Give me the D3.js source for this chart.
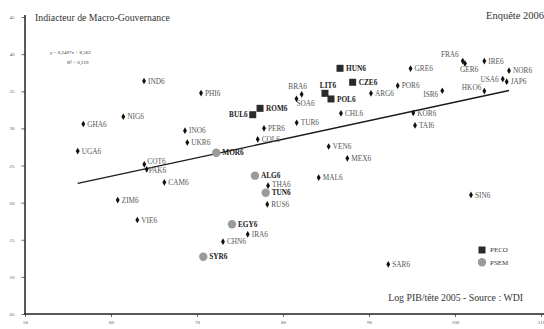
<!DOCTYPE html>
<html><head><meta charset="utf-8">
<script src="https://cdn.jsdelivr.net/npm/d3@7"></script>
<style>
html,body{margin:0;padding:0;background:#fff;}
svg{display:block;font-family:"Liberation Serif","DejaVu Serif",serif;}
</style></head>
<body><svg id="c" width="544" height="329"></svg>
<script>
// ---- data ----
const codes = ["IND6","PHI6","NIG6","GHA6","UGA6","COT6","PAK6","CAM6","ZIM6","VIE6",
  "INO6","UKR6","MOR6","PER6","COL6","TUR6","BRA6","SOA6","BUL6","ROM6",
  "LIT6","POL6","HUN6","CZE6","ARG6","CHL6","GRE6","POR6","ISR6","KOR6",
  "TAI6","VEN6","MEX6","MAL6","ALG6","THA6","TUN6","RUS6","EGY6","IRA6",
  "CHN6","SYR6","SIN6","SAR6","FRA6","GER6","IRE6","NOR6","USA6","JAP6","HKO6"];
const logPIB = [63.84,70.47,61.43,56.78,56.13,63.87,64.15,66.20,60.78,63.06,
  68.60,68.87,72.24,77.79,77.06,81.59,82.17,81.57,76.48,77.33,
  84.88,85.58,86.63,88.10,90.23,86.74,94.83,93.34,98.52,95.15,
  95.35,85.31,87.48,84.15,76.74,78.26,77.99,78.17,74.07,75.90,
  73.02,70.73,101.86,92.24,100.90,101.16,103.41,106.28,105.55,106.01,103.41];
const macroGouv = [36.38,34.76,31.57,30.59,26.95,25.16,24.49,22.74,20.35,17.66,
  29.69,28.10,26.72,30.01,28.53,30.76,34.59,33.98,31.84,32.70,
  34.72,33.96,38.09,36.21,34.72,32.03,38.06,35.75,35.07,32.07,
  30.39,27.56,25.97,23.38,23.63,22.28,21.34,19.77,17.08,15.73,
  14.74,12.72,21.03,11.69,39.07,38.74,39.07,37.77,36.65,36.29,35.03];
const groups = ["","","","","","","","","","",
  "","","PSEM","","","","","","PECO","PECO",
  "PECO","PECO","PECO","PECO","","","","","","",
  "","","","","PSEM","","PSEM","","PSEM","",
  "","PSEM","","","","","","","","",""];
const xTicks = [50,60,70,80,90,100,110];
const yTicks = [5,10,15,20,25,30,35,40,45];
const trendSlope = 0.2497, trendIntercept = 8.562;
const trendRange = [56.13,106.28];
const legendItems = ["PECO","PSEM"];

// label placement (layout only)
const place = {
  "BUL6":{dx:-5,dy:0,a:"end"}, "LIT6":{dx:3,dy:-8,a:"middle"},
  "BRA6":{dx:-4,dy:-8,a:"middle"}, "SOA6":{dx:0,dy:5,a:"start"},
  "ISR6":{dx:-4,dy:4,a:"end"}, "FRA6":{dx:-4,dy:-7,a:"end"},
  "GER6":{dx:-5,dy:6,a:"start"}, "HKO6":{dx:-3,dy:-4,a:"end"},
  "USA6":{dx:-4,dy:0,a:"end"}, "COT6":{dx:3,dy:-3,a:"start"},
  "PAK6":{dx:2,dy:1,a:"start"}, "THA6":{dx:4,dy:-1,a:"start"}
};

const svg = d3.select("#c");
const x = d3.scaleLinear().domain([50,110]).range([25,541]);
const y = d3.scaleLinear().domain([5,45]).range([314,17]);

// axes
const yAxis = svg.append("g").attr("transform","translate(25,0)")
  .call(d3.axisLeft(y).tickValues(yTicks).tickSize(3.5).tickPadding(7).tickFormat(d=>d<10?"0"+d:d));
const xAxis = svg.append("g").attr("transform","translate(0,314)")
  .call(d3.axisBottom(x).tickValues(xTicks).tickSize(3).tickPadding(3));
[yAxis,xAxis].forEach(g=>{
  g.select(".domain").remove();
  g.selectAll(".tick line").attr("stroke","#444").attr("stroke-width",0.8);
  g.selectAll(".tick text").attr("font-size",5).attr("fill","#555").attr("font-family","Liberation Serif, serif");
});
svg.append("line").attr("x1",25).attr("x2",25).attr("y1",15).attr("y2",314.5).attr("stroke","#222").attr("stroke-width",1.5);
svg.append("line").attr("x1",24.3).attr("x2",544).attr("y1",314).attr("y2",314).attr("stroke","#222").attr("stroke-width",1.5);

// titles
svg.append("text").attr("x",35).attr("y",21).attr("font-size",9.8).attr("fill","#333").text("Indiacteur de Macro-Gouvernance");
svg.append("text").attr("x",544).attr("y",19).attr("text-anchor","end").attr("font-size",10.5).attr("fill","#333").text("Enquête 2006");
svg.append("text").attr("x",523).attr("y",301).attr("text-anchor","end").attr("font-size",9.8).attr("fill","#333").text("Log PIB/tête 2005 - Source : WDI");
svg.append("text").attr("x",50).attr("y",53.5).attr("font-size",5).attr("fill","#333").text("y = 0,2497x + 8,562");
svg.append("text").attr("x",67).attr("y",63.5).attr("font-size",5).attr("fill","#333").text("R² = 0,219");

// trend line
svg.append("line")
  .attr("x1",x(trendRange[0])).attr("y1",y(trendSlope*trendRange[0]+trendIntercept))
  .attr("x2",x(trendRange[1])).attr("y2",y(trendSlope*trendRange[1]+trendIntercept))
  .attr("stroke","#1a1a1a").attr("stroke-width",1.3);

const pts = codes.map((c,i)=>({c, vx:logPIB[i], vy:macroGouv[i], g:groups[i]}));
const diamond = d3.symbol().type(d3.symbolDiamond).size(13);
const square = d3.symbol().type(d3.symbolSquare).size(49);

const gp = svg.append("g");
gp.selectAll("path.m").data(pts.filter(d=>d.g==="")).join("path")
  .attr("transform",d=>`translate(${x(d.vx)},${y(d.vy)})`).attr("d",diamond()).attr("fill","#111");
gp.selectAll("path.s").data(pts.filter(d=>d.g==="PECO")).join("path")
  .attr("transform",d=>`translate(${x(d.vx)},${y(d.vy)})`).attr("d",square()).attr("fill","#2a2a2a");
gp.selectAll("circle").data(pts.filter(d=>d.g==="PSEM")).join("circle")
  .attr("cx",d=>x(d.vx)).attr("cy",d=>y(d.vy)).attr("r",4.2).attr("fill","#9a9a9a");

svg.append("g").selectAll("text").data(pts).join("text")
  .attr("x",d=>{const p=place[d.c]; const off=d.g===""?4:6; return x(d.vx)+(p?p.dx:off);})
  .attr("y",d=>{const p=place[d.c]; return y(d.vy)+(p?p.dy:0);})
  .attr("dy","0.35em")
  .attr("text-anchor",d=>place[d.c]?place[d.c].a:"start")
  .attr("font-size",7.3)
  .attr("font-weight",d=>d.g===""?"normal":"bold")
  .attr("fill",d=>d.g===""?"#555":"#222")
  .text(d=>d.c);

// legend
const lg = svg.append("g");
lg.append("path").attr("transform",`translate(482,250)`).attr("d",square()).attr("fill","#2a2a2a");
lg.append("circle").attr("cx",482).attr("cy",262.3).attr("r",4.2).attr("fill","#9a9a9a");
lg.selectAll("text").data(legendItems).join("text")
  .attr("x",490).attr("y",(d,i)=>250+i*12.3).attr("dy","0.35em")
  .attr("font-size",7).attr("fill","#333").text(d=>d);
</script></body></html>
